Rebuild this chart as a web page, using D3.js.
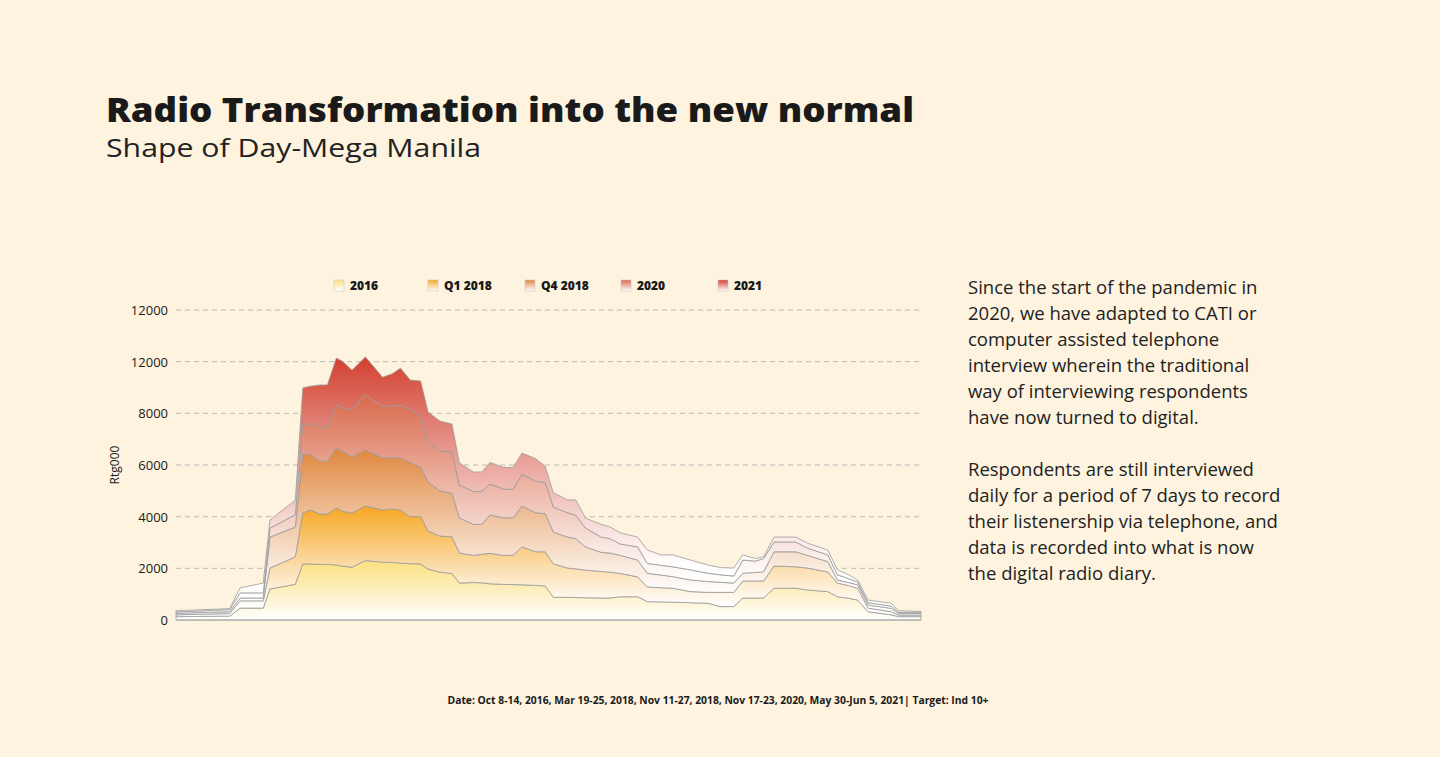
<!DOCTYPE html>
<html>
<head>
<meta charset="utf-8">
<script src="https://cdn.jsdelivr.net/npm/d3@7"></script>
<style>
  body { margin: 0; background: #fdf3df; }
  svg text { font-family: "Open Sans", Lato, sans-serif; fill: #1a1a1a; }
</style>
</head>
<body>
<svg id="chart" width="1440" height="757"></svg>
<script>
// time slots (quarter-hour index through the day)
var slots = [0, 7.2, 8.6, 11.7, 12.6, 16, 17, 18, 19.3, 20.3, 21.5, 22.4, 23.6, 25.4, 27.7, 29, 30.1, 31.4, 32.8, 33.8,
  35.4, 37, 38, 39.9, 41, 42.1, 43.9, 45.2, 46.4, 48.2, 49.5, 50.6, 52.5, 53.6, 54.9, 57, 58.2, 59.6, 61.9, 63.2,
  65, 66.6, 69, 71.3, 73, 74.8, 76, 77.7, 78.8, 80.2, 83.1, 84.7, 87.4, 88.7, 90.2, 91.4, 92.8, 95.9, 96.9, 99.9];

var s2016 = [130, 150, 460, 460, 1200, 1380, 2170, 2170, 2150, 2150, 2130, 2080, 2040, 2300, 2240, 2230, 2200, 2180, 2170, 1970,
  1850, 1800, 1430, 1450, 1440, 1400, 1380, 1370, 1360, 1340, 1320, 880, 880, 870, 860, 850, 850, 900, 900, 710,
  700, 690, 670, 650, 520, 520, 850, 850, 850, 1230, 1230, 1160, 1100, 900, 840, 770, 320, 200, 130, 130];
var q12018 = [70, 100, 280, 280, 810, 1060, 1970, 2090, 1950, 1950, 2200, 2120, 2100, 2110, 2020, 2070, 2050, 1820, 1830, 1470,
  1400, 1420, 1160, 1050, 1100, 1180, 1120, 1130, 1470, 1300, 1320, 1290, 1130, 1110, 1070, 1030, 1000, 900, 770, 570,
  550, 540, 430, 420, 550, 550, 660, 660, 660, 860, 830, 850, 760, 530, 490, 460, 140, 120, 60, 60];
var q42018 = [60, 70, 110, 110, 1200, 1160, 2280, 2160, 2050, 2050, 2320, 2320, 2170, 2170, 2020, 1980, 2030, 2100, 1920, 1900,
  1750, 1690, 1360, 1200, 1160, 1480, 1460, 1450, 1580, 1510, 1480, 1230, 1200, 1170, 900, 740, 740, 700, 650, 530,
  490, 450, 450, 420, 390, 360, 300, 330, 360, 550, 580, 490, 400, 120, 120, 130, 120, 130, 60, 60];
var y2020 = [50, 80, 200, 200, 350, 470, 1130, 1190, 1310, 1310, 1670, 1680, 1820, 2130, 1980, 2010, 2040, 2050, 1980, 1550,
  1550, 1590, 1270, 1270, 1270, 1200, 1110, 1100, 1240, 1220, 1210, 970, 940, 910, 730, 590, 560, 440, 510, 380,
  380, 380, 390, 320, 290, 270, 510, 440, 510, 380, 380, 280, 260, 200, 150, 110, 90, 90, 50, 50];
var y2021 = [50, 40, 190, 380, 310, 570, 1430, 1440, 1640, 1640, 1820, 1800, 1540, 1470, 1140, 1240, 1430, 1140, 1350, 1160,
  1150, 1090, 860, 760, 760, 840, 840, 850, 810, 880, 620, 560, 500, 590, 390, 490, 450, 430, 380, 520,
  400, 460, 380, 320, 280, 310, 200, 100, 70, 190, 190, 190, 190, 190, 150, 80, 100, 110, 60, 30];

var seriesNames = ["2016", "Q1 2018", "Q4 2018", "2020", "2021"];
var seriesColors = ["#fbe07e", "#f6a623", "#e0873e", "#d9694b", "#d2402f"];
var yTicks = [0, 2000, 4000, 6000, 8000, 10000, 12000];
var yTickLabels = ["0", "2000", "4000", "6000", "8000", "12000", "12000"];

var textLines = ["Since the start of the pandemic in", "2020, we have adapted to CATI or",
  "computer assisted telephone", "interview wherein the traditional",
  "way of interviewing respondents", "have now turned to digital.", "",
  "Respondents are still interviewed", "daily for a period of 7 days to record",
  "their listenership via telephone, and", "data is recorded into what is now",
  "the digital radio diary."];

var svg = d3.select("#chart");
svg.append("rect").attr("width", 1440).attr("height", 757).attr("fill", "#fdf3df");

// title
svg.append("text").attr("x", 106).attr("y", 122)
  .attr("textLength", 808).attr("lengthAdjust", "spacingAndGlyphs")
  .style("font-size", "34px").style("font-weight", "800")
  .text("Radio Transformation into the new normal");
svg.append("text").attr("x", 106).attr("y", 157)
  .attr("textLength", 375).attr("lengthAdjust", "spacingAndGlyphs")
  .style("font-size", "25px").style("fill", "#222")
  .text("Shape of Day-Mega Manila");

var x = d3.scaleLinear().domain([0, 99.9]).range([176, 921]);
var y = d3.scaleLinear().domain([0, 12000]).range([620, 310]);

// grid
svg.append("g").selectAll("line").data(yTicks.slice(1)).enter().append("line")
  .attr("x1", 176).attr("x2", 921)
  .attr("y1", function (d) { return y(d); }).attr("y2", function (d) { return y(d); })
  .attr("stroke", "#bbb").attr("stroke-dasharray", "5,4");

// y axis labels
svg.append("g").selectAll("text").data(yTicks).enter().append("text")
  .attr("x", 168).attr("y", function (d) { return y(d) + 5; })
  .attr("text-anchor", "end").style("font-size", "13px")
  .text(function (d, i) { return yTickLabels[i]; });
svg.append("text").attr("transform", "translate(119,465) rotate(-90)")
  .attr("text-anchor", "middle").style("font-size", "12px").text("Rtg000");

// stacked data
var rows = slots.map(function (s, i) {
  return { slot: s, "2016": s2016[i], "Q1 2018": q12018[i], "Q4 2018": q42018[i], "2020": y2020[i], "2021": y2021[i] };
});
var stack = d3.stack().keys(seriesNames)(rows);

var defs = svg.append("defs");
stack.forEach(function (layer, i) {
  var top = d3.max(layer, function (d) { return d[1]; });
  var bottom = d3.max(layer, function (d) { return d[0]; }) * 0.25;
  var g = defs.append("linearGradient").attr("id", "grad" + i)
    .attr("gradientUnits", "userSpaceOnUse")
    .attr("x1", 0).attr("x2", 0).attr("y1", y(top)).attr("y2", y(bottom));
  g.append("stop").attr("offset", "0%").attr("stop-color", seriesColors[i]);
  g.append("stop").attr("offset", "100%").attr("stop-color", "#ffffff").attr("stop-opacity", 0.95);

  var lg = defs.append("linearGradient").attr("id", "lgrad" + i)
    .attr("x1", 0).attr("x2", 0).attr("y1", 0).attr("y2", 1);
  lg.append("stop").attr("offset", "0%").attr("stop-color", seriesColors[i]);
  lg.append("stop").attr("offset", "100%").attr("stop-color", "#fff");
});

var area = d3.area()
  .x(function (d) { return x(d.data.slot); })
  .y0(function (d) { return y(d[0]); })
  .y1(function (d) { return y(d[1]); });

svg.append("g").selectAll("path").data(stack).enter().append("path")
  .attr("d", area)
  .attr("fill", function (d, i) { return "url(#grad" + i + ")"; })
  .attr("stroke", "#9a9a9a").attr("stroke-width", 0.8);

svg.append("line").attr("x1", 176).attr("x2", 921).attr("y1", 620).attr("y2", 620)
  .attr("stroke", "#aaa");

// legend
var legendX = [334, 428, 525, 621, 718];
var lgd = svg.append("g").selectAll("g").data(seriesNames).enter().append("g")
  .attr("transform", function (d, i) { return "translate(" + legendX[i] + ",280)"; });
lgd.append("rect").attr("width", 10).attr("height", 11)
  .attr("fill", function (d, i) { return "url(#lgrad" + i + ")"; })
  .attr("stroke", "#ccc").attr("stroke-width", 0.6);
lgd.append("text").attr("x", 16).attr("y", 10)
  .style("font-size", "12px").style("font-weight", "800")
  .text(function (d) { return d; });

// side text
svg.append("g").selectAll("text").data(textLines).enter().append("text")
  .attr("x", 968).attr("y", function (d, i) { return 294 + i * 26; })
  .style("font-size", "18.5px").style("fill", "#222")
  .text(function (d) { return d; });

// footer
svg.append("text").attr("x", 718).attr("y", 704).attr("text-anchor", "middle")
  .attr("textLength", 541).attr("lengthAdjust", "spacingAndGlyphs")
  .style("font-size", "10px").style("font-weight", "700")
  .text("Date: Oct 8-14, 2016, Mar 19-25, 2018, Nov 11-27, 2018, Nov 17-23, 2020, May 30-Jun 5, 2021| Target: Ind 10+");
</script>
</body>
</html>
